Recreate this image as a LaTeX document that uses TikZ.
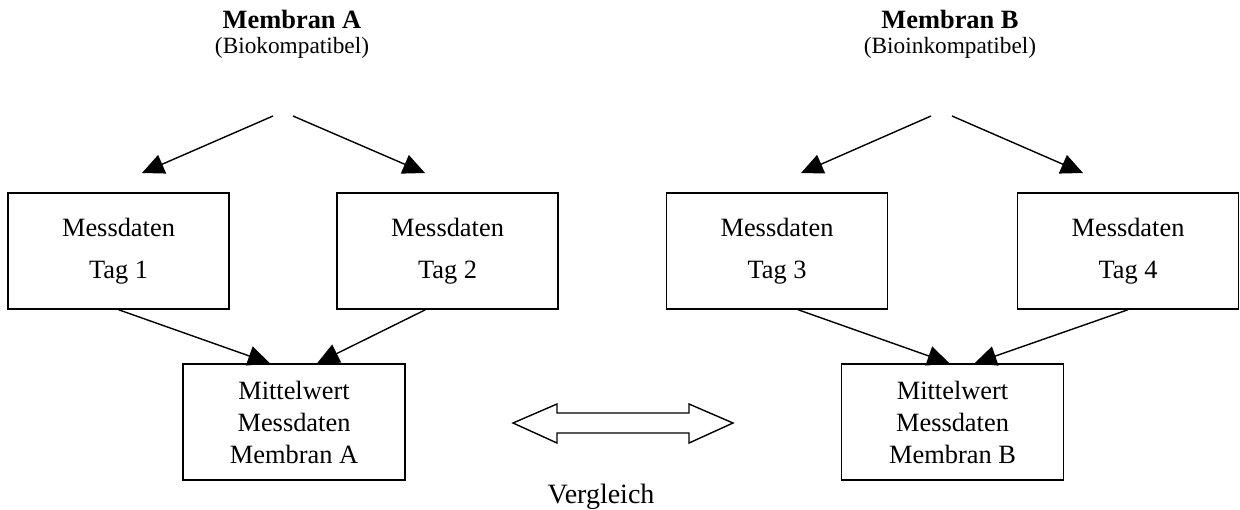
\documentclass[tikz,border=0pt]{standalone}
\usepackage{fontspec}
\setmainfont{Liberation Serif}
\usetikzlibrary{arrows.meta}

\begin{document}
\begin{tikzpicture}[x=0.5pt, y=-0.5pt,
                    box/.style={draw, line width=0.7pt, minimum width=110.5pt, minimum height=58pt, inner sep=0pt, align=center, font=\fontsize{13.2}{21}\selectfont},
                    mean/.style={box, minimum width=111pt, font=\fontsize{13.2}{16}\selectfont},
                    link/.style={line width=0.7pt, -{Triangle[length=11pt, width=10pt]}}]
                            \useasboundingbox (0,0) rectangle (1240,509);

                            \node[anchor=base, font=\fontsize{13.2}{16}\selectfont\bfseries] (titleA) at (292,28) {Membran A};
                            \node[anchor=base, font=\fontsize{11.65}{14}\selectfont] (subA) at (292,53) {(Biokompatibel)};
                            \node[anchor=base, font=\fontsize{13.2}{16}\selectfont\bfseries] (titleB) at (950,28) {Membran B};
                            \node[anchor=base, font=\fontsize{11.65}{14}\selectfont] (subB) at (950,53) {(Bioinkompatibel)};

                            \coordinate (forkA1) at (273,116);
                            \coordinate (forkA2) at (293,116);
                            \coordinate (forkB1) at (931,116);
                            \coordinate (forkB2) at (952,116);
                            \coordinate (endA1) at (142,173);
                            \coordinate (endA2) at (425,173);
                            \coordinate (endB1) at (801,173);
                            \coordinate (endB2) at (1083,173);

                            \node[box] (tag1) at (118.5,251) {Messdaten\\Tag 1};
                            \node[box] (tag2) at (447.5,251) {Messdaten\\Tag 2};
                            \node[box] (tag3) at (777,251) {Messdaten\\Tag 3};
                            \node[box] (tag4) at (1128,251) {Messdaten\\Tag 4};

                            \node[mean] (meanA) at (294,422) {Mittelwert\\Messdaten\\Membran A};
                            \node[mean] (meanB) at (952.5,422) {Mittelwert\\Messdaten\\Membran B};

                            \draw[link] (forkA1) -- (endA1);
                            \draw[link] (forkA2) -- (endA2);
                            \draw[link] (forkB1) -- (endB1);
                            \draw[link] (forkB2) -- (endB2);

                            \draw[link] (tag1.south) -- ([xshift=-12pt]meanA.north);
                            \draw[link] ([xshift=-11pt]tag2.south) -- ([xshift=11.5pt]meanA.north);
                            \draw[link] ([xshift=10.5pt]tag3.south) -- ([xshift=-1.5pt]meanB.north);
                            \draw[link] (tag4.south) -- ([xshift=11pt]meanB.north);

                            \draw[line width=0.7pt] (513,423) -- (557,404) -- (557,413) -- (689,413) -- (689,404) -- (733,423)
                                -- (689,443) -- (689,433) -- (557,433) -- (557,443) -- cycle;
                            \node[anchor=base, font=\fontsize{14}{16}\selectfont] (cmp) at (601,503) {Vergleich};
                        \end{tikzpicture}
\end{document}
